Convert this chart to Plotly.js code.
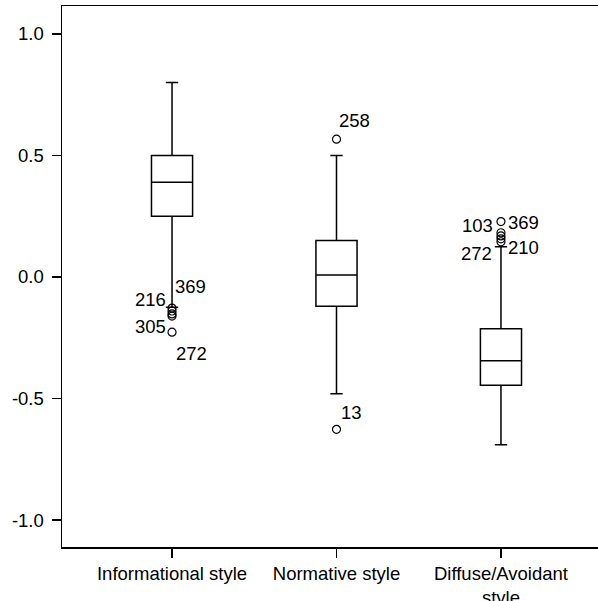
<!DOCTYPE html>
<html>
<head>
<meta charset="utf-8">
<script src="https://cdn.plot.ly/plotly-3.0.1.min.js"></script>
<style>html,body{margin:0;padding:0;background:#fff;}#chart{width:598px;height:601px;}</style>
</head>
<body>
<div id="chart"></div>
<script>
// Categories and box statistics
const categories = ["Informational style", "Normative style", "Diffuse/Avoidant style"];
const tickLabels = ["Informational style", "Normative style", "Diffuse/Avoidant<br>style"];
const lowerFence = [-0.125, -0.48, -0.69];
const q1 = [0.25, -0.12, -0.445];
const median = [0.39, 0.008, -0.345];
const q3 = [0.50, 0.15, -0.213];
const upperFence = [0.80, 0.50, 0.124];

// Outliers
const outlierX = [0, 0, 0, 0, 0, 1, 1, 2, 2, 2, 2, 2];
const outlierY = [-0.128, -0.14, -0.152, -0.161, -0.227, 0.567, -0.627, 0.228, 0.182, 0.169, 0.157, 0.145];

// Case labels attached to outliers
const labelText = ["369", "216", "305", "272", "258", "13", "103", "369", "272", "210"];
const labelX = [0, 0, 0, 0, 1, 1, 2, 2, 2, 2];
const labelY = [-0.128, -0.128, -0.227, -0.227, 0.567, -0.627, 0.228, 0.228, 0.145, 0.145];
const labelDx = [18, -22, -22, 19, 18, 15, -23, 23, -24, 23];
const labelDy = [22, 9, 6, -21, 19, 17, -4, -1, -12, -6];

const font = "Liberation Sans, Arial, sans-serif";
const fs = 18.5;

const boxTrace = {
  type: "box",
  x: [0, 1, 2],
  q1: q1, median: median, q3: q3,
  lowerfence: lowerFence, upperfence: upperFence,
  width: 0.25,
  whiskerwidth: 0.3,
  fillcolor: "#ffffff",
  line: {color: "#000000", width: 1.5},
  boxpoints: false,
  hoverinfo: "skip",
  showlegend: false
};

const outTrace = {
  type: "scatter",
  mode: "markers",
  x: outlierX,
  y: outlierY,
  marker: {symbol: "circle-open", size: 8, color: "#000000", line: {width: 1.2, color: "#000000"}},
  hoverinfo: "skip",
  showlegend: false
};

const annotations = labelText.map((t, i) => ({
  x: labelX[i], y: labelY[i], xref: "x", yref: "y",
  text: t, showarrow: false, xanchor: "center", yanchor: "middle",
  xshift: labelDx[i], yshift: labelDy[i],
  font: {family: font, size: fs, color: "#000000"}
}));

const layout = {
  width: 598, height: 601,
  margin: {l: 62, r: 0, t: 6, b: 54},
  paper_bgcolor: "#ffffff",
  plot_bgcolor: "#ffffff",
  font: {family: font, size: fs, color: "#000000"},
  xaxis: {
    range: [-0.669, 2.59],
    tickmode: "array",
    tickvals: [0, 1, 2],
    ticktext: tickLabels,
    ticks: "outside", ticklen: 9, tickwidth: 1.2, tickcolor: "#000000",
    ticklabelstandoff: 0,
    showline: true, linecolor: "#000000", linewidth: 1.5, mirror: true,
    showgrid: false, zeroline: false,
    tickfont: {family: font, size: fs, color: "#000000"}
  },
  yaxis: {
    range: [-1.111, 1.115],
    tickmode: "array",
    tickvals: [-1, -0.5, 0, 0.5, 1],
    ticktext: ["-1.0", "-0.5", "0.0", "0.5", "1.0"],
    ticks: "outside", ticklen: 9, tickwidth: 1.2, tickcolor: "#000000",
    ticklabelstandoff: 4,
    showline: true, linecolor: "#000000", linewidth: 1.5, mirror: false,
    showgrid: false, zeroline: false,
    tickfont: {family: font, size: fs, color: "#000000"}
  },
  annotations: annotations,
  showlegend: false
};

Plotly.newPlot("chart", [boxTrace, outTrace], layout, {displayModeBar: false, staticPlot: true});
</script>
</body>
</html>
